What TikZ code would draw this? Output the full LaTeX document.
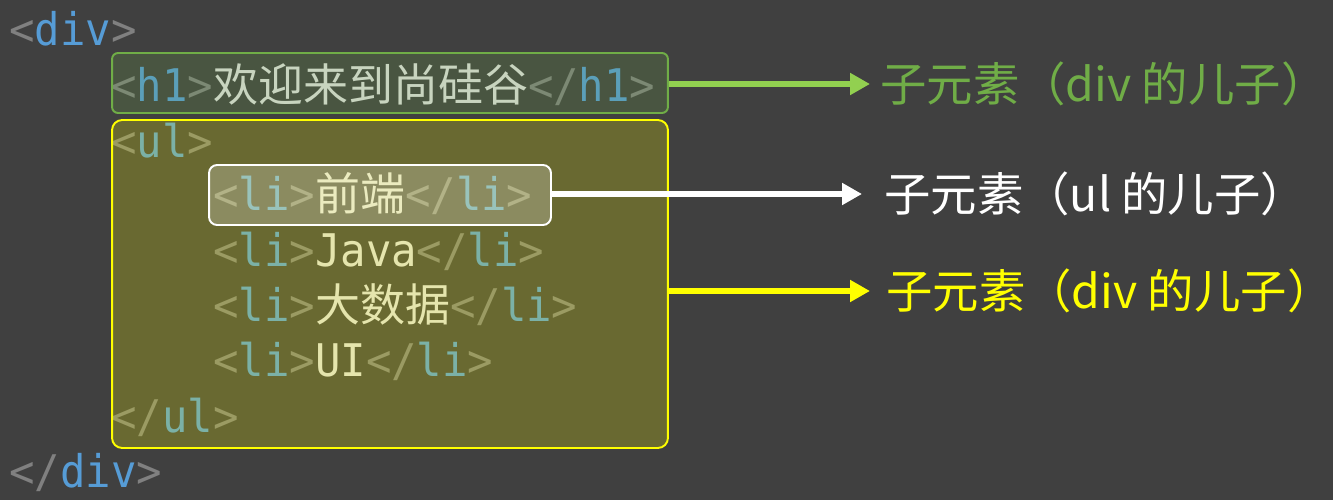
\documentclass[tikz,border=0pt]{standalone}
\usepackage{fontspec}
\usepackage{xcolor}
\usetikzlibrary{arrows.meta, positioning}
\newfontfamily\codefont[FakeStretch=0.94]{DejaVu Sans Mono}
\newfontfamily\cjk{Noto Sans CJK SC}
\definecolor{editorbg}{RGB}{64, 64, 64}
\definecolor{tagbracket}{RGB}{128, 128, 128}
\definecolor{tagblue}{RGB}{86, 156, 214}
\definecolor{codetext}{RGB}{222, 222, 222}
\definecolor{h1green}{RGB}{112, 173, 71}
\definecolor{arrowgreen}{RGB}{146, 208, 80}
\definecolor{ulyellow}{RGB}{255, 255, 0}

\newcommand{\otag}[1]{\textcolor{tagbracket}{<}\textcolor{tagblue}{#1}\textcolor{tagbracket}{>}}
\newcommand{\ctag}[1]{\textcolor{tagbracket}{</}\textcolor{tagblue}{#1}\textcolor{tagbracket}{>}}

\begin{document}
\begin{tikzpicture}[x=0.02cm, y=-0.02cm,
    code/.style={anchor=base west, inner sep=0pt, text=codetext, font=\codefont\fontsize{25.6}{30}\selectfont},
    overlay box/.style={draw=#1, fill=#1, line width=1.1pt},
    note/.style={anchor=west, inner xsep=0.2cm, font=\cjk\fontsize{26.4}{30}\selectfont},
    pointer/.style={line width=3.4pt, -{Triangle[length=0.4cm, width=0.42cm]}}]
    \fill[editorbg] (0,0) rectangle (1333,500);
    \useasboundingbox (0,0) rectangle (1333,500);

    % code lines
    \node[code] (divopen) at (9,46) {\otag{div}};
    \node[code] (h1line) at (111,102) {\otag{h1}{\cjk 欢迎来到尚硅谷}\ctag{h1}};
    \node[code] (ulopen) at (111,157) {\otag{ul}};
    \foreach \i/\entry in {0/{\cjk 前端}, 1/Java, 2/{\cjk 大数据}, 3/UI} {
        \node[code] (li\i) at (213,{211+55.1*\i}) {\otag{li}{\entry}\ctag{li}};
    }
    \node[code] (ulclose) at (111,432) {\ctag{ul}};
    \node[code] (divclose) at (9,487) {\ctag{div}};

    % highlight boxes
    \node[overlay box=h1green, fill opacity=0.2, rounded corners=0.12cm,
          minimum width=11.12cm, minimum height=1.2cm] (h1box) at (390,83) {};
    \node[overlay box=ulyellow, fill opacity=0.22, rounded corners=0.2cm,
          minimum width=11.12cm, minimum height=6.56cm] (ulbox) at (390,284) {};
    \node[overlay box=white, fill opacity=0.23, rounded corners=0.16cm,
          minimum width=6.84cm, minimum height=1.2cm] (libox) at (380,195) {};

    % notes
    \node[note, text=h1green] (h1note) at (870,84) {子元素（div 的儿子）};
    \node[note, text=white, inner xsep=0.44cm] (linote) at (862,194) {子元素（ul 的儿子）};
    \node[note, text=ulyellow, inner xsep=0.32cm] (ulnote) at (870,291) {子元素（div 的儿子）};

    \draw[pointer, arrowgreen] (h1box.east |- h1note.west) -- (h1note.west);
    \draw[pointer, white] (libox.east |- linote.west) -- (linote.west);
    \draw[pointer, ulyellow] (ulbox.east |- ulnote.west) -- (ulnote.west);
\end{tikzpicture}
\end{document}
